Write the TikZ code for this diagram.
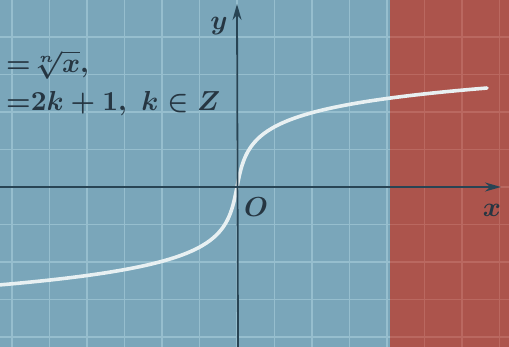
\documentclass[tikz,border=0pt]{standalone}
\usepackage{graphicx}
\usetikzlibrary{arrows.meta}
\definecolor{bgblue}{RGB}{122,166,186}
\definecolor{gridblue}{RGB}{150,190,206}
\definecolor{bgred}{RGB}{172,84,76}
\definecolor{gridred}{RGB}{186,104,96}
\definecolor{axiscol}{RGB}{40,68,84}
\definecolor{inkcol}{RGB}{38,54,66}
\definecolor{curvecol}{RGB}{232,240,242}
\newcommand{\bigtxt}[1]{\scalebox{2.75}{\boldmath#1}}
\tikzset{
  gridline/.style={line width=1.6pt},
  axisline/.style={draw=axiscol,line width=1.8pt,-{Stealth[length=16pt,width=9pt]}},
  lbl/.style={text=inkcol,inner sep=0pt},
  curveline/.style={draw=curvecol,line width=3.6pt,line cap=round}
}
\begin{document}
\begin{tikzpicture}[x=1pt,y=-1pt]
\useasboundingbox (0,0) rectangle (509,347);
\begin{scope}
\clip (0,0) rectangle (509,347);
\fill[bgblue] (0,0) rectangle (390,347);
\fill[bgred] (390,0) rectangle (509,347);
% grid
\foreach \i in {-6,...,4} {
  \draw[gridline,gridblue] ({237+37.5*\i},0) -- ({237+37.5*\i},347);
}
\foreach \j in {-5,...,5} {
  \draw[gridline,gridblue] (0,{187+37.5*\j}) -- (390,{187+37.5*\j});
  \draw[gridline,gridred] (390,{187+37.5*\j}) -- (509,{187+37.5*\j});
}
\foreach \i in {5,6,7} {
  \draw[gridline,gridred] ({237+37.5*\i},0) -- ({237+37.5*\i},347);
}
% curve
\draw[curveline] plot[domain=-240:250,samples=197,smooth]
  ({237+\x},{187-20.5*sign(\x)*ln(abs(\x)/4+sqrt((\x/4)^2+1))});
% axes
\coordinate (xs) at (0,187);
\coordinate (xe) at (501,187);
\coordinate (ys) at (238,347);
\coordinate (ye) at (237,4);
\draw[axisline] (xs) -- (xe);
\draw[axisline] (ys) -- (ye);
\node[lbl,anchor=base] (ylab) at (219,30) {\bigtxt{$y$}};
\node[lbl,anchor=base] (xlab) at (492,217) {\bigtxt{$x$}};
\node[lbl,anchor=base] (olab) at (256,217) {\bigtxt{$O$}};
\node[lbl,anchor=base west] (f1) at (6,73) {\bigtxt{${=}\sqrt[n]{x},$}};
\node[lbl,anchor=base west] (f2) at (6,111) {\bigtxt{${=}2k+1,\ k\in Z$}};
\end{scope}
\end{tikzpicture}
\end{document}
